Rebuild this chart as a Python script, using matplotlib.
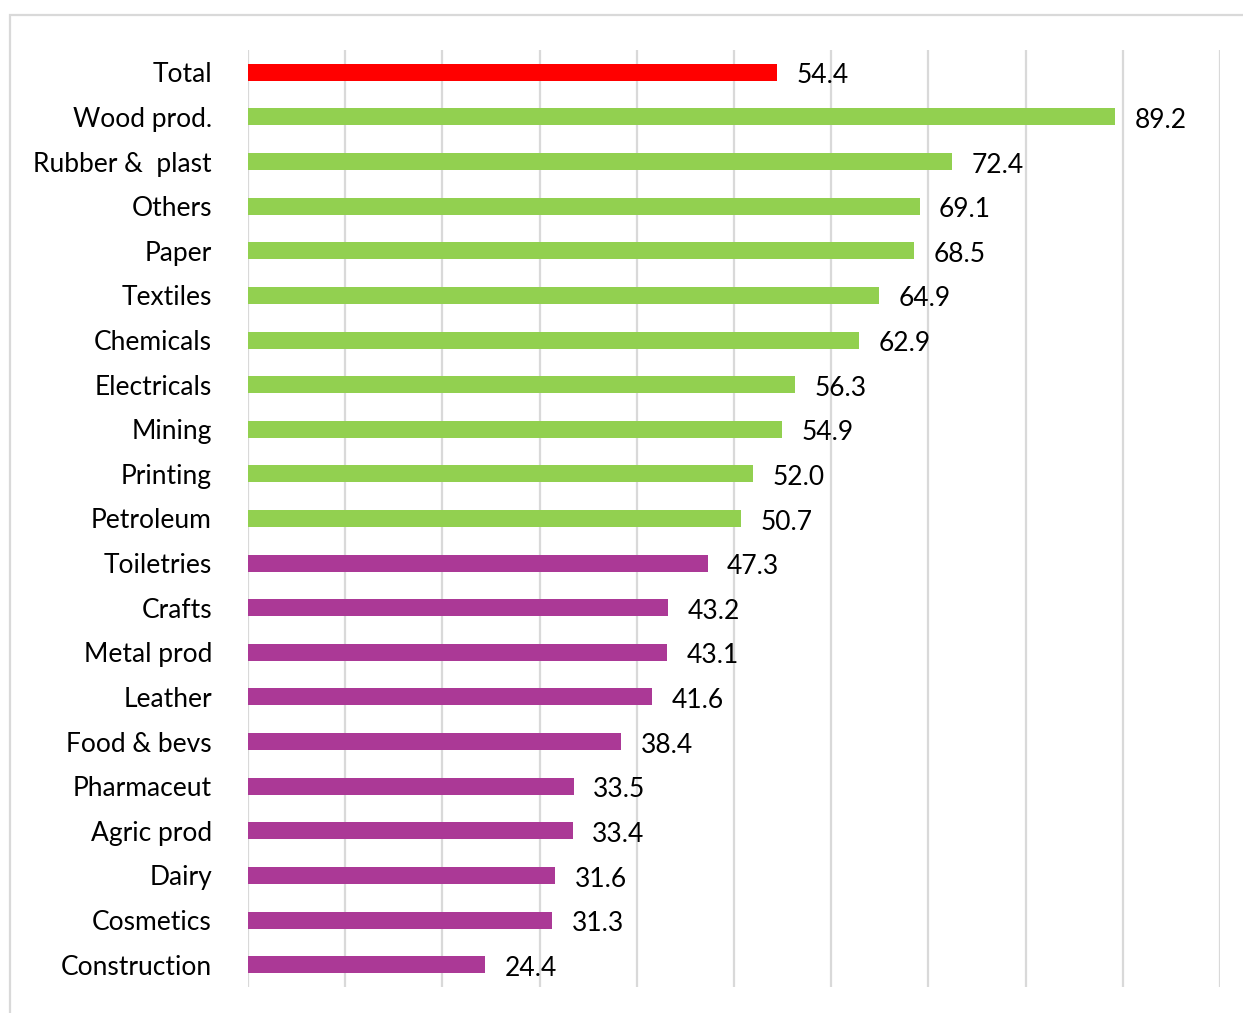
import matplotlib.pyplot as plt
from matplotlib.patches import Rectangle

# sectors, top to bottom
sectors = ['Total', 'Wood prod.', 'Rubber &  plast', 'Others', 'Paper', 'Textiles',
           'Chemicals', 'Electricals', 'Mining', 'Printing', 'Petroleum',
           'Toiletries', 'Crafts', 'Metal prod', 'Leather', 'Food & bevs',
           'Pharmaceut', 'Agric prod', 'Dairy', 'Cosmetics', 'Construction']
values = [54.4, 89.2, 72.4, 69.1, 68.5, 64.9, 62.9, 56.3, 54.9, 52.0, 50.7,
          47.3, 43.2, 43.1, 41.6, 38.4, 33.5, 33.4, 31.6, 31.3, 24.4]
groups = ['total'] + ['high'] * 10 + ['low'] * 10

palette = {'total': '#FF0000', 'high': '#92D050', 'low': '#AB3996'}

plt.rcParams['font.family'] = ['Lato', 'DejaVu Sans']

fig = plt.figure(figsize=(12.43, 10.13), dpi=100)
ax = fig.add_axes([248 / 1243, 1 - 987 / 1013, (1220 - 248) / 1243, (987 - 50) / 1013])

ypos = list(range(len(sectors)))
colors = [palette[g] for g in groups]
ax.barh(ypos, values, height=0.38, color=colors, zorder=3)

for y, v in zip(ypos, values):
    ax.text(v + 2.0, y + 0.08, f'{v:.1f}', va='center', ha='left', fontsize=19, color='black')

ax.set_xlim(0, 100)
ax.set_ylim(len(sectors) - 0.5, -0.5)
ax.set_xticks(range(0, 101, 10))
ax.set_xticklabels([])
ax.tick_params(axis='x', length=0)
ax.set_yticks(ypos)
ax.set_yticklabels(sectors, fontsize=19)
ax.tick_params(axis='y', length=0, pad=26)
ax.grid(axis='x', color='#D9D9D9', linewidth=1.6, zorder=0)
for s in ax.spines.values():
    s.set_visible(False)

# chart area border
fig.patches.append(Rectangle((10 / 1243, -0.1), 1.2, 1 - 15 / 1013 + 0.1,
                             transform=fig.transFigure, fill=False,
                             edgecolor='#D9D9D9', linewidth=1.6))

fig.savefig('out.png', dpi=100)
